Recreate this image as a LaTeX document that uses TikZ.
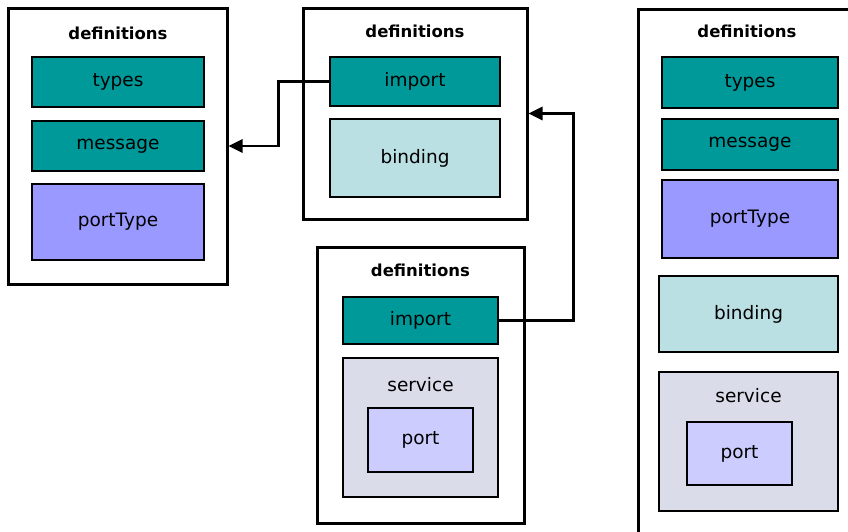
\documentclass[tikz,border=0pt]{standalone}
\usepackage{fontspec}
\setmainfont{DejaVu Sans}
\usetikzlibrary{arrows.meta}
\definecolor{tealbox}{HTML}{009999}
\definecolor{ptbox}{HTML}{9999FF}
\definecolor{bindbox}{HTML}{BBE0E3}
\definecolor{servbox}{HTML}{DADCEA}
\definecolor{portbox}{HTML}{CCCCFF}
\tikzset{
  outerbox/.style={draw=black, line width=3pt, fill=white, inner sep=0pt},
  innerbox/.style={draw=black, line width=2.6pt, inner sep=0pt, font=\fontsize{18.5}{22}\selectfont},
  title/.style={font=\fontsize{16.5}{19}\selectfont\bfseries, inner sep=0pt},
  lbl/.style={font=\fontsize{18.5}{22}\selectfont, inner sep=0pt},
  conn/.style={line width=2.8pt, -{Triangle[length=14pt,width=13pt]}},
}
\begin{document}
\begin{tikzpicture}[x=1pt,y=-1pt]
\useasboundingbox (0,0) rectangle (848,531);
\fill[white] (0,0) rectangle (848,531);

% left document: types, message, portType
\node[outerbox, minimum width=219pt, minimum height=276pt] (boxA) at (117.5,146) {};
\node[title] (tA) at (118,33) {definitions};
\node[innerbox, fill=tealbox, minimum width=172pt, minimum height=50pt] (typesA) at (118,82) {types};
\node[innerbox, fill=tealbox, minimum width=172pt, minimum height=50pt] (msgA) at (118,146) {message};
\node[innerbox, fill=ptbox, minimum width=172pt, minimum height=76pt] (ptA) at (118,222) {portType};

% top middle document: import, binding
\node[outerbox, minimum width=224pt, minimum height=211pt] (boxB) at (415,113.5) {};
\node[title] (tB) at (415,31) {definitions};
\node[innerbox, fill=tealbox, minimum width=170pt, minimum height=49pt] (impB) at (415,81.5) {import};
\node[innerbox, fill=bindbox, minimum width=170pt, minimum height=78pt] (bindB) at (415,158) {binding};

% bottom middle document: import, service
\node[outerbox, minimum width=207pt, minimum height=276pt] (boxC) at (420.5,385) {};
\node[title] (tC) at (420.5,270) {definitions};
\node[innerbox, fill=tealbox, minimum width=155pt, minimum height=47pt] (impC) at (420.5,320.5) {import};
\node[innerbox, fill=servbox, minimum width=155pt, minimum height=139pt] (servC) at (420.5,427.5) {};
\node[lbl] (servCl) at (420.5,385) {service};
\node[innerbox, fill=portbox, minimum width=105pt, minimum height=64pt] (portC) at (420.5,440) {port};

% right document: everything in one file
\begin{scope}
\clip (0,0) rectangle (848,531);
\node[outerbox, minimum width=230pt, minimum height=540pt, anchor=north west] (boxD) at (637,8) {};
\end{scope}
\node[title] (tD) at (747,31) {definitions};
\node[innerbox, fill=tealbox, minimum width=176pt, minimum height=51pt] (typesD) at (750,82.5) {types};
\node[innerbox, fill=tealbox, minimum width=176pt, minimum height=51pt] (msgD) at (750,144.5) {message};
\node[innerbox, fill=ptbox, minimum width=176pt, minimum height=78pt] (ptD) at (750,219) {portType};
\node[innerbox, fill=bindbox, minimum width=179pt, minimum height=76pt] (bindD) at (748.5,314) {binding};
\node[innerbox, fill=servbox, minimum width=179pt, minimum height=139pt] (servD) at (748.5,441.5) {};
\node[lbl] (servDl) at (748.5,396) {service};
\node[innerbox, fill=portbox, minimum width=105pt, minimum height=63pt] (portD) at (739.5,453.5) {port};

% import links
\draw[conn] (impB.west) -- ([xshift=-50pt]impB.west) |- (boxA.east);
\draw[conn] (impC.east) -- ([xshift=74pt]impC.east) |- (boxB.east);
\end{tikzpicture}
\end{document}
